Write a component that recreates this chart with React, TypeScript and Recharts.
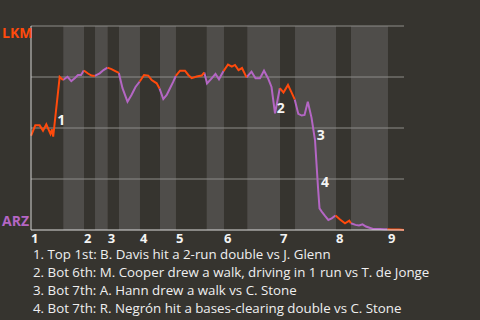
import { ComposedChart, Line, XAxis, YAxis, ReferenceArea, ReferenceLine, ReferenceDot } from 'recharts';

// game progress (0-100) where each half inning starts: T1, B1, T2, B2 ...
const halfStart = [0, 8.66, 14.21, 17.16, 20.56, 23.59, 29.22, 34.58, 38.87, 47.1, 51.74, 57.99, 66.76, 70.78, 81.77, 85.79, 95.71];
const gameEnd = 100;
const inningLabels = ['1', '2', '3', '4', '5', '6', '7', '8', '9'];

// one entry per play: position in the game and LKM win probability (%)
const playX = [
  0, 1.15, 2.33, 3.22, 4.1, 5.23, 5.63, 5.95, 7.69, 8.58,
  9.79, 10.8, 11.72, 12.6, 13.41, 14.15,
  15.28, 16.22, 17.1,
  18.42, 19.44, 20.5,
  21.58, 22.6, 23.55,
  24.53, 25.87, 26.94, 28.02, 29.15,
  30.3, 31.45, 32.36, 33.7, 34.45,
  35.47, 36.38, 37.27, 38.15, 38.82,
  39.95, 41.29, 42.17, 43.08, 44.42, 45.76, 46.46,
  47.19, 48.26, 49.46, 50.4, 51.61,
  52.82, 53.84, 54.69, 55.63, 56.57, 57.78,
  59.12, 60.19, 61.39, 62.47, 63.54, 64.48, 65.42, 66.7,
  67.69, 68.9, 69.84, 70.7,
  71.66, 72.58, 73.33, 74.21, 75.2, 76.14, 76.94, 77.35, 77.94, 78.82, 79.71, 80.62, 81.64,
  82.84, 84.18, 85.34, 85.75,
  87.0, 87.94, 88.88, 89.81, 90.75, 91.69, 92.63, 93.57, 94.64, 95.58,
  96.52, 97.59, 98.66, 100,
];
const lkmWinPct = [
  46.2, 51.3, 51.3, 48.7, 51.8, 47.1, 49.3, 45.8, 75.1, 73.5,
  75.1, 73.0, 74.4, 76.0, 76.0, 78.2,
  76.7, 75.7, 75.5,
  76.8, 78.4, 79.6,
  78.9, 77.9, 77.0,
  69.5, 62.9, 66.2, 70.1, 72.8,
  76.0, 75.7, 73.5, 71.9, 69.4,
  64.2, 66.2, 69.5, 72.7, 75.5,
  78.1, 78.1, 76.0, 74.4, 75.2, 75.7, 77.2,
  71.8, 74.0, 76.5, 73.9, 77.9,
  81.1, 80.1, 80.9, 78.4, 79.4, 74.8,
  77.6, 74.4, 74.4, 78.1, 74.4, 70.1, 57.2, 69.5,
  67.4, 71.1, 67.5, 64.0,
  56.9, 56.1, 56.4, 62.9, 55.1, 44.1, 21.1, 10.6, 9.0, 6.9, 4.9, 5.7, 7.1,
  5.1, 3.3, 4.6, 3.3,
  2.5, 2.2, 2.8, 1.7, 1.1, 0.5, 0.5, 0.5, 0.4, 0.4,
  0.3, 0.3, 0.2, 0,
];

const eventNums = ['1', '2', '3', '4'];
const eventX = [6.78, 65.6, 76.33, 77.48];
const eventPct = [51.5, 57.2, 44.1, 21.2];
const eventText = [
  '1. Top 1st: B. Davis hit a 2-run double vs J. Glenn',
  '2. Bot 6th: M. Cooper drew a walk, driving in 1 run vs T. de Jonge',
  '3. Bot 7th: A. Hann drew a walk vs C. Stone',
  '4. Bot 7th: R. Negrón hit a bases-clearing double vs C. Stone',
];

const BG = '#36342f';
const BAND = '#4f4d4a';
const ORANGE = '#ff4a0c';
const PURPLE = '#b466c4';
const FONT = '"Open Sans", "Noto Sans", sans-serif';

const halfOf = (x: number) => {
  let k = 0;
  halfStart.forEach((s, i) => { if (x >= s) k = i; });
  return k;
};
const isTop = (i: number) => halfOf(playX[i]) % 2 === 0;

const data = playX.map((x, i) => {
  const inTop = isTop(i);
  const nextTop = i + 1 < playX.length ? isTop(i + 1) : inTop;
  const p = lkmWinPct[i];
  return {
    x,
    lkm: inTop || nextTop ? p : null,
    arz: !inTop || !nextTop ? p : null,
  };
});

const inningTicks = halfStart.filter((_, i) => i % 2 === 0);

const InningTick = ({ x, y, index }: any) => (
  <text x={x} y={y + 12.5} textAnchor="start" fill="#f4f4f4" fontSize={13} fontWeight={700} fontFamily={FONT}>
    {inningLabels[index]}
  </text>
);

const TeamTick = ({ x, y, payload }: any) => {
  if (payload.value === 100)
    return <text x={x - 29} y={y + 12} fill={ORANGE} fontSize={14} fontWeight={700} fontFamily={FONT}>LKM</text>;
  if (payload.value === 0)
    return <text x={x - 29} y={y - 4} fill={PURPLE} fontSize={14} fontWeight={700} fontFamily={FONT}>ARZ</text>;
  return <g />;
};

export default function App() {
  return (
    <div style={{ position: 'fixed', left: 0, top: 0, width: 480, height: 320, background: BG, overflow: 'hidden' }}>
      <ComposedChart width={480} height={320} data={data} margin={{ top: 26, right: 76, bottom: 70, left: 0 }}>
        {halfStart.map((s, i) =>
          i % 2 === 1 ? (
            <ReferenceArea key={`band-${i}`} x1={s} x2={halfStart[i + 1] ?? gameEnd} fill={BAND} fillOpacity={1} stroke="none" />
          ) : null
        )}
        {[25, 50, 75, 100].map((v) => (
          <ReferenceLine key={`grid-${v}`} y={v} stroke="#8d8c89" strokeWidth={1} />
        ))}
        <XAxis
          dataKey="x"
          type="number"
          domain={[0, gameEnd]}
          ticks={inningTicks}
          interval={0}
          height={20}
          tickSize={0}
          tickMargin={0}
          tickLine={false}
          axisLine={{ stroke: '#dcdcdc', strokeWidth: 1 }}
          tick={<InningTick />}
        />
        <YAxis
          type="number"
          domain={[0, 100]}
          ticks={[0, 25, 50, 75, 100]}
          interval={0}
          width={31}
          tickSize={0}
          tickMargin={0}
          tickLine={false}
          axisLine={{ stroke: '#d4d4d4', strokeWidth: 1 }}
          tick={<TeamTick />}
        />
        <Line dataKey="arz" type="linear" stroke={PURPLE} strokeWidth={2} dot={false} activeDot={false} connectNulls={false} isAnimationActive={false} />
        <Line dataKey="lkm" type="linear" stroke={ORANGE} strokeWidth={2} dot={false} activeDot={false} connectNulls={false} isAnimationActive={false} />
        {eventNums.map((n, i) => (
          <ReferenceDot
            key={`ev-${n}`}
            x={eventX[i]}
            y={eventPct[i]}
            r={0}
            shape={(p: any) => (
              <text x={p.cx + 1} y={p.cy} fill="#f4f4f4" fontSize={14} fontWeight={700} fontFamily={FONT}>{n}</text>
            )}
          />
        ))}
      </ComposedChart>
      <svg width={480} height={320} style={{ position: 'absolute', left: 0, top: 0, pointerEvents: 'none' }}>
        {eventText.map((t, i) => (
          <text key={i} x={33} y={259 + i * 17.9} fill="#efefef" fontSize={13.3} fontFamily={FONT}>{t}</text>
        ))}
      </svg>
    </div>
  );
}
